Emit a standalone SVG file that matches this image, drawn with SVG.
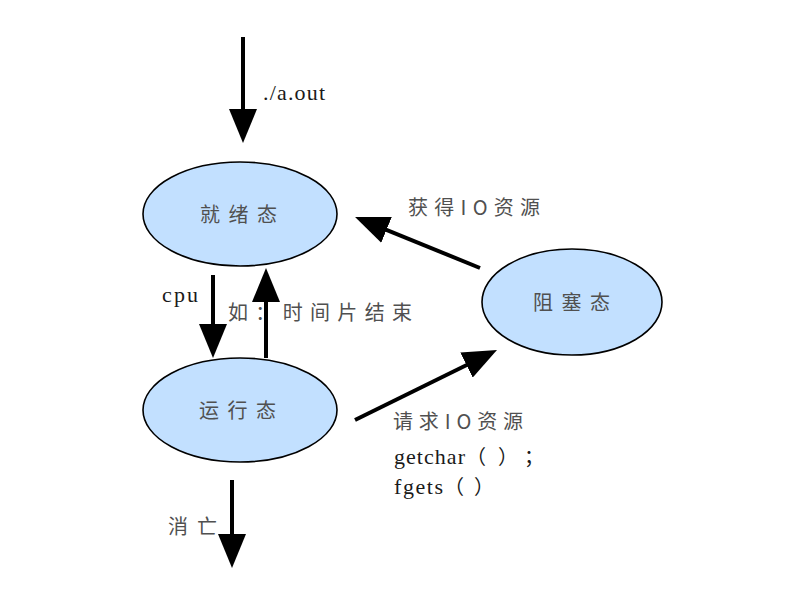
<svg xmlns="http://www.w3.org/2000/svg" width="802" height="604" viewBox="0 0 802 604">
<style>
.node{fill:#C2E0FF;stroke:#000;stroke-width:1.6}
.ntext{font-family:"Noto Sans CJK SC","Liberation Serif",serif;font-size:20px;fill:#505050}
.conn{stroke:#000;stroke-width:4;fill:none;marker-end:url(#ah)}
.lab{font-family:"Liberation Serif","Noto Sans CJK SC",serif;font-size:22px;fill:#1a1a1a}
.clab{font-family:"Noto Sans CJK SC","Liberation Serif",serif;font-size:20px;fill:#505050}
.cjk{font-family:"Noto Sans CJK SC",sans-serif;font-size:20px}
</style>
<defs>
<marker id="ah" markerUnits="userSpaceOnUse" markerWidth="34" markerHeight="28" refX="28" refY="14" orient="auto">
<path d="M0,0 L34,14 L0,28 z" fill="#000"/>
</marker>
</defs>
<rect width="802" height="604" fill="#fff"/>
<g id="ready">
<ellipse class="node" cx="240" cy="214" rx="97" ry="52"/>
<text class="ntext" x="200" y="222" textLength="77" lengthAdjust="spacing">就绪态</text>
</g>
<g id="running">
<ellipse class="node" cx="240" cy="410" rx="97" ry="52"/>
<text class="ntext" x="199" y="418" textLength="77" lengthAdjust="spacing">运行态</text>
</g>
<g id="blocked">
<ellipse class="node" cx="572" cy="302" rx="90" ry="53"/>
<text class="ntext" x="533" y="310" textLength="77" lengthAdjust="spacing">阻塞态</text>
</g>
<g id="connectors">
<line class="conn" x1="243" y1="37" x2="243" y2="137"/>
<line class="conn" x1="213" y1="275" x2="213" y2="352"/>
<line class="conn" x1="266" y1="358" x2="266" y2="274"/>
<line class="conn" x1="480" y1="268" x2="360.6" y2="219.3"/>
<line class="conn" x1="355" y1="420" x2="491.6" y2="352.7"/>
<line class="conn" x1="232" y1="480" x2="232" y2="562"/>
<text class="lab" x="263" y="100" textLength="62" lengthAdjust="spacing">./a.out</text>
<text class="lab" x="162" y="302" textLength="36" lengthAdjust="spacing">cpu</text>
<text class="clab" x="228" y="320" textLength="184" lengthAdjust="spacing">如：时间片结束</text>
<text class="clab" x="408" y="215" textLength="132" lengthAdjust="spacing">获得IO资源</text>
<text class="clab" x="393" y="429" textLength="130" lengthAdjust="spacing">请求IO资源</text>
<text class="lab" y="464"><tspan x="394" textLength="71" lengthAdjust="spacing">getchar</tspan><tspan class="cjk" x="466">（</tspan><tspan class="cjk" x="498">）</tspan><tspan class="cjk" x="524">；</tspan></text>
<text class="lab" y="494"><tspan x="394" textLength="49" lengthAdjust="spacing">fgets</tspan><tspan class="cjk" x="444">（</tspan><tspan class="cjk" x="474">）</tspan></text>
<text class="clab" x="168" y="534" textLength="49" lengthAdjust="spacing">消亡</text>
</g>
</svg>
